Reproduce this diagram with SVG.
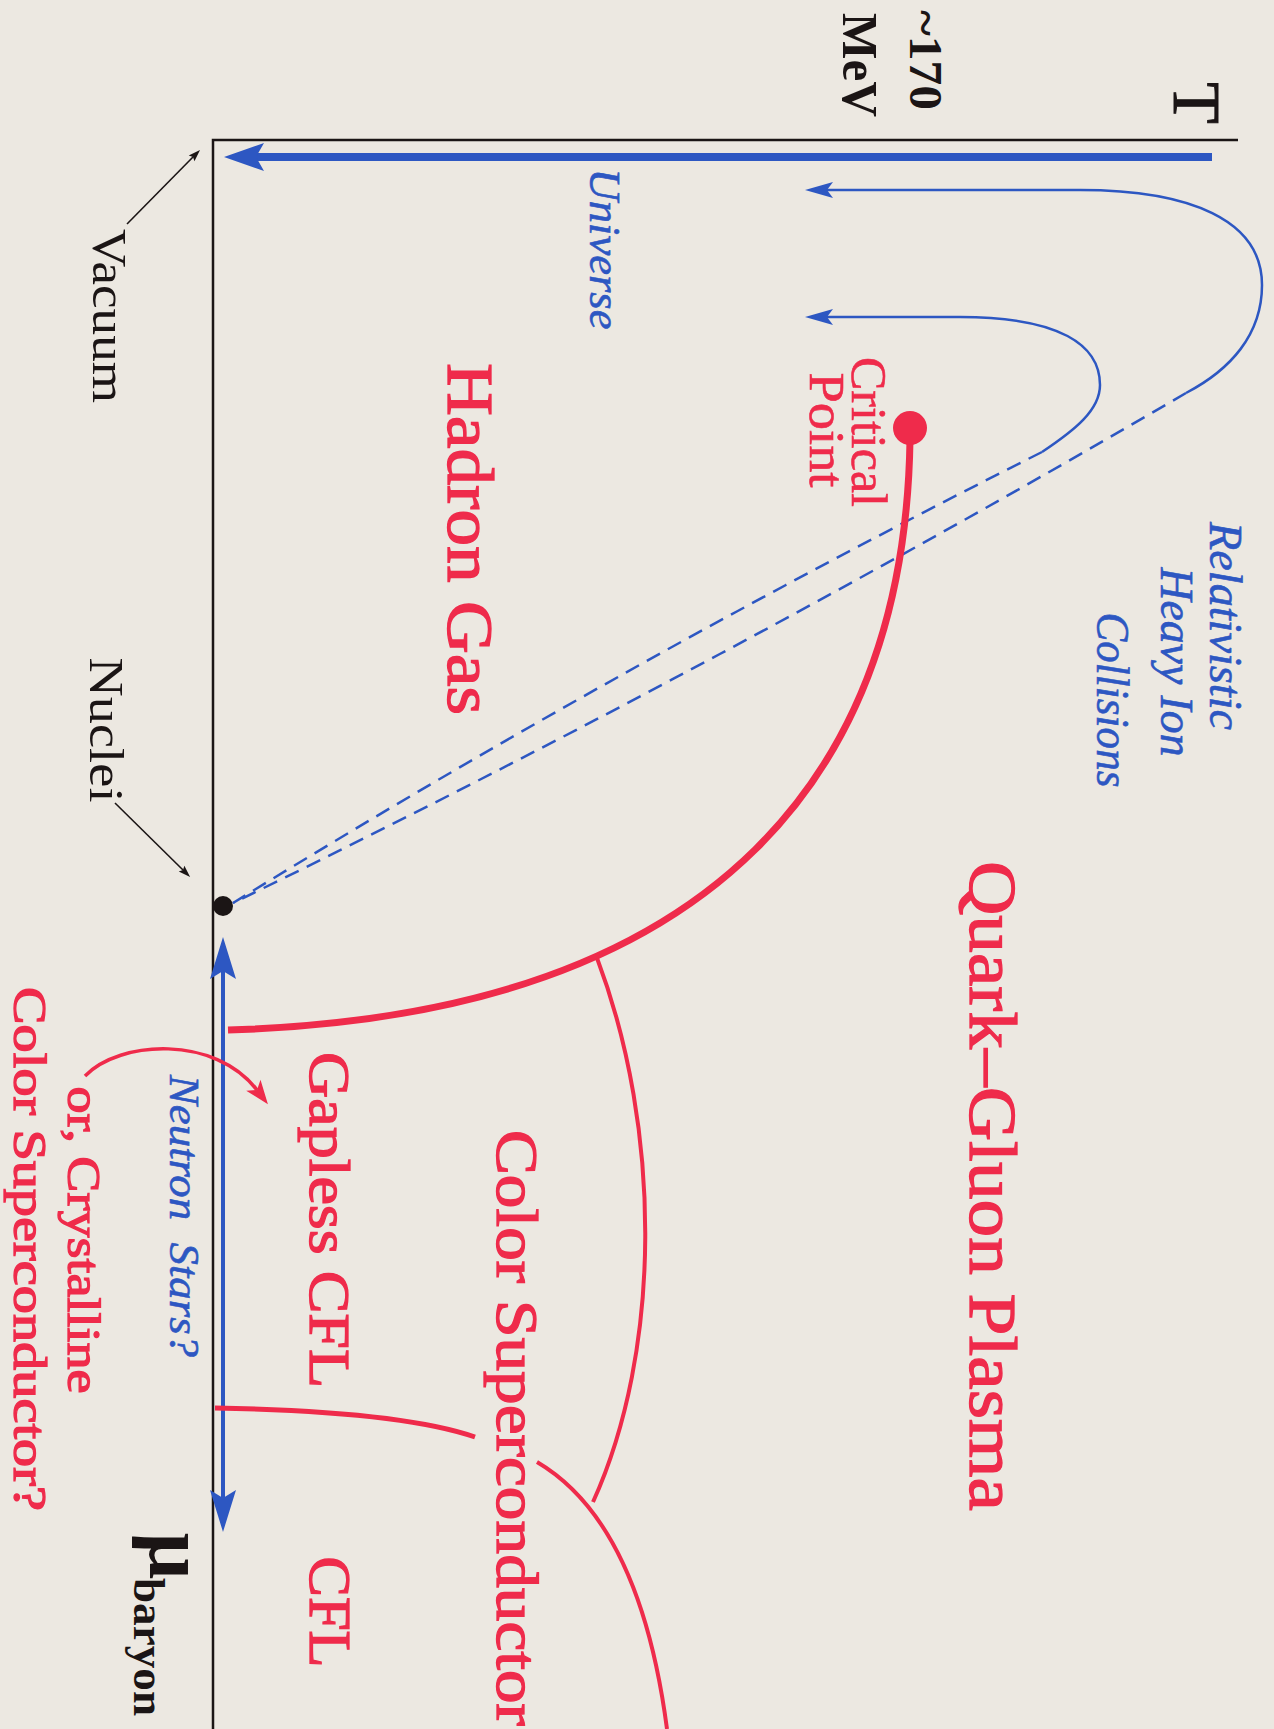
<svg xmlns="http://www.w3.org/2000/svg" width="1274" height="1729" viewBox="0 0 1274 1729">
<style>
.t{font-family:"Liberation Serif","DejaVu Serif",serif;text-anchor:middle}
.red{fill:#EF2B4B}
.semi{stroke:#EF2B4B;stroke-width:1.3}
.blue{fill:#2D57C2}
.blk{fill:#1b1515}
.b{font-weight:bold}
.i{font-style:italic}
.bi{stroke:#2D57C2;stroke-width:0.6}
.axis{fill:none;stroke:#1b1515;stroke-width:2.5}
.bl{fill:none;stroke:#2D57C2}
.rd{fill:none;stroke:#EF2B4B}
</style>
<defs>
<marker id="mA" markerUnits="userSpaceOnUse" viewBox="-10 -16 45 32" markerWidth="45" markerHeight="32" refX="0" refY="0" orient="auto"><path d="M32,0 L-8,-14 L0,0 L-8,14 Z" fill="#2D57C2"/></marker>
<marker id="mB" markerUnits="userSpaceOnUse" viewBox="-8 -10 32 20" markerWidth="32" markerHeight="20" refX="0" refY="0" orient="auto"><path d="M22,0 L-6,-8 L0,0 L-6,8 Z" fill="#2D57C2"/></marker>
<marker id="mC" markerUnits="userSpaceOnUse" viewBox="-10 -15 46 30" markerWidth="46" markerHeight="30" refX="0" refY="0" orient="auto-start-reverse"><path d="M34,0 L-8,-13 L0,0 L-8,13 Z" fill="#2D57C2"/></marker>
<marker id="mD" markerUnits="userSpaceOnUse" viewBox="-8 -11 28 22" markerWidth="28" markerHeight="22" refX="0" refY="0" orient="auto"><path d="M18,0 L-6,-9 L0,0 L-6,9 Z" fill="#EF2B4B"/></marker>
<marker id="mE" markerUnits="userSpaceOnUse" viewBox="-4 -6 16 12" markerWidth="16" markerHeight="12" refX="0" refY="0" orient="auto"><path d="M10,0 L-2,-4 L0,0 L-2,4 Z" fill="#1b1515"/></marker>
</defs>
<rect width="1274" height="1729" fill="#ECE8E1"/>

<g id="connectors">
<polyline id="axes" class="axis" points="1238,140 213,140 213,1729"/>
<path id="universe-arrow" class="bl" stroke-width="8" d="M1212,157 L256,157" marker-end="url(#mA)"/>
<path id="rhic-outer" class="bl" stroke-width="2.5" d="M1186,393 C1230,370 1262,335 1262,285 C1262,220 1190,190 1080,190 L827,190" marker-end="url(#mB)"/>
<path id="rhic-inner" class="bl" stroke-width="2.5" d="M1042,452 C1075,430 1100,410 1100,385 C1100,345 1060,317 960,317 L827,317" marker-end="url(#mB)"/>
<path id="dash-outer" class="bl" stroke-width="2.5" stroke-dasharray="15,9" d="M1186,393 Q719,666 233,903"/>
<path id="dash-inner" class="bl" stroke-width="2.5" stroke-dasharray="15,9" d="M1042,452 Q628,660 233,903"/>
<path id="neutron-arrow" class="bl" stroke-width="4" d="M223,971 L223,1498" marker-start="url(#mC)" marker-end="url(#mC)"/>
<path id="first-order" class="rd" stroke-width="7" d="M910,440 C905,760 730,1015 228,1030"/>
<path id="csc-boundary" class="rd" stroke-width="4" d="M597,958 C662,1130 662,1350 593,1502"/>
<path id="cfl-upper" class="rd" stroke-width="4" d="M537,1462 C610,1505 650,1600 667,1729"/>
<path id="gapless-boundary" class="rd" stroke-width="5" d="M215,1408 C330,1410 420,1418 475,1437"/>
<path id="crystal-arrow" class="rd" stroke-width="3.5" d="M85,1076 C120,1040 215,1035 257,1090" marker-end="url(#mD)"/>
<path id="vacuum-pointer" fill="none" stroke="#1b1515" stroke-width="1.6" d="M127,224 L193,157" marker-end="url(#mE)"/>
<path id="nuclei-pointer" fill="none" stroke="#1b1515" stroke-width="1.6" d="M115,803 L183,870" marker-end="url(#mE)"/>
</g>

<g id="axis-labels">
<text class="t blk" font-size="68" stroke="#1b1515" stroke-width="1" transform="translate(1174,103) rotate(90)">T</text>
<text class="t blk b" font-size="46" textLength="100" lengthAdjust="spacingAndGlyphs" transform="translate(910,60) rotate(90)">~170</text>
<text class="t blk b" font-size="50" textLength="104" lengthAdjust="spacingAndGlyphs" transform="translate(843,65) rotate(90)">MeV</text>
<text class="t blk b" transform="translate(150,1556) rotate(90)" font-size="82">μ</text>
<text class="t blk b" font-size="44" textLength="138" lengthAdjust="spacingAndGlyphs" transform="translate(134,1647) rotate(90)">baryon</text>
</g>

<g id="node-vacuum"><text class="t blk" font-size="48" textLength="174" lengthAdjust="spacingAndGlyphs" transform="translate(93,316) rotate(90)">Vacuum</text></g>
<g id="node-nuclei">
<circle cx="223" cy="906" r="10" fill="#1b1515"/>
<text class="t blk" font-size="48" textLength="145" lengthAdjust="spacingAndGlyphs" transform="translate(90,730) rotate(90)">Nuclei</text>
</g>
<g id="node-universe"><text class="t blue i bi" font-size="44" textLength="161" lengthAdjust="spacingAndGlyphs" transform="translate(590,249) rotate(90)">Universe</text></g>
<g id="node-rhic">
<text class="t blue i bi" font-size="46" textLength="208" lengthAdjust="spacingAndGlyphs" transform="translate(1210,626) rotate(90)">Relativistic</text>
<text class="t blue i bi" font-size="46" textLength="189" lengthAdjust="spacingAndGlyphs" transform="translate(1161,662) rotate(90)">Heavy Ion</text>
<text class="t blue i bi" font-size="46" textLength="175" lengthAdjust="spacingAndGlyphs" transform="translate(1097,700) rotate(90)">Collisions</text>
</g>
<g id="node-critical">
<circle cx="910" cy="428" r="17" fill="#EF2B4B"/>
<text class="t red" font-size="50" stroke="#EF2B4B" stroke-width="0.6" textLength="150" lengthAdjust="spacingAndGlyphs" transform="translate(852,432) rotate(90)">Critical</text>
<text class="t red" font-size="50" stroke="#EF2B4B" stroke-width="0.6" textLength="115" lengthAdjust="spacingAndGlyphs" transform="translate(810,430) rotate(90)">Point</text>
</g>
<g id="node-hadron"><text class="t red semi" font-size="66" textLength="352" lengthAdjust="spacingAndGlyphs" transform="translate(448,539) rotate(90)">Hadron Gas</text></g>
<g id="node-qgp"><text class="t red semi" font-size="68" textLength="650" lengthAdjust="spacingAndGlyphs" transform="translate(970,1186) rotate(90)">Quark–Gluon Plasma</text></g>
<g id="node-csc"><text class="t red semi" font-size="60" textLength="596" lengthAdjust="spacingAndGlyphs" transform="translate(497,1428) rotate(90)">Color Superconductor</text></g>
<g id="node-gapless"><text class="t red semi" font-size="58" textLength="336" lengthAdjust="spacingAndGlyphs" transform="translate(310,1220) rotate(90)">Gapless CFL</text></g>
<g id="node-cfl"><text class="t red semi" font-size="60" textLength="111" lengthAdjust="spacingAndGlyphs" transform="translate(310,1612) rotate(90)">CFL</text></g>
<g id="node-neutron"><text class="t blue i bi" font-size="42" textLength="282" lengthAdjust="spacingAndGlyphs" transform="translate(170,1216) rotate(90)" xml:space="preserve">Neutron  Stars?</text></g>
<g id="node-crystalline">
<text class="t red semi" font-size="46" textLength="307" lengthAdjust="spacingAndGlyphs" transform="translate(68,1240) rotate(90)">or, Crystalline</text>
<text class="t red semi" font-size="46" textLength="524" lengthAdjust="spacingAndGlyphs" transform="translate(14,1249) rotate(90)">Color Superconductor?</text>
</g>
</svg>
